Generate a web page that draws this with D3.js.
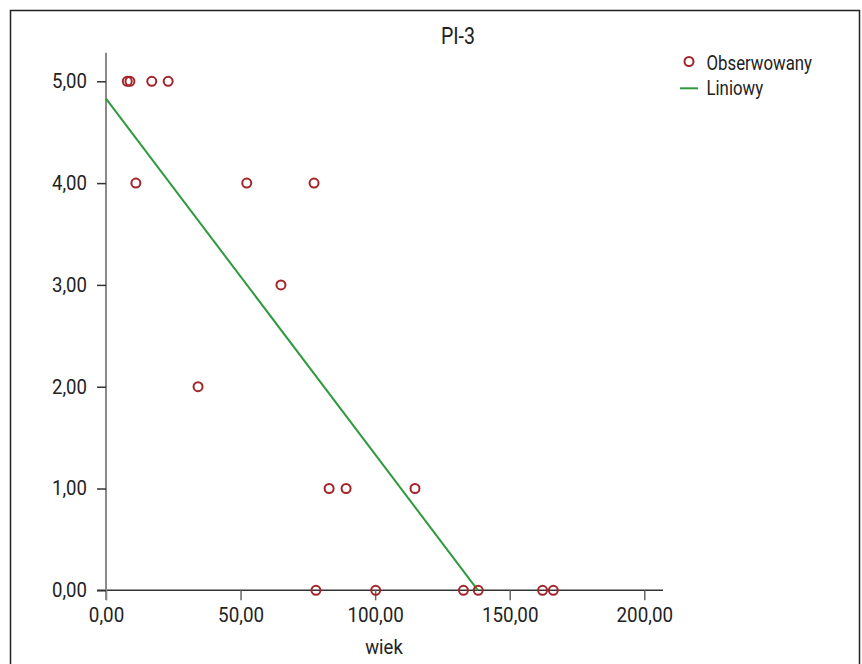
<!DOCTYPE html>
<html>
<head>
<meta charset="utf-8">
<script src="https://cdn.jsdelivr.net/npm/d3@7"></script>
<style>
  body { margin: 0; background: #fff; }
  svg text { font-family: Roboto, "DejaVu Sans Condensed", sans-serif; fill: #222; }
</style>
</head>
<body>
<script>
// observed points (wiek, PI-3)
const wiek = [7.9, 8.9, 17.0, 23.1, 11.1, 52.3, 77.3, 65.0, 34.2, 82.9, 89.2, 114.8, 78.0, 100.2, 132.8, 138.3, 162.2, 166.2];
const pi3 = [5, 5, 5, 5, 4, 4, 4, 3, 2, 1, 1, 1, 0, 0, 0, 0, 0, 0];
// linear fit
const fitIntercept = 4.83;
const fitZeroAt = 138.2;
const xTicks = [0, 50, 100, 150, 200];
const yTicks = [0, 1, 2, 3, 4, 5];
const legendLabels = ["Obserwowany", "Liniowy"];

const width = 862, height = 664;
const fmt = v => d3.format(".2f")(v).replace(".", ",");

// squeeze text horizontally to look like the condensed font of the original
function condense(sel, k) {
    sel.each(function () {
        const t = d3.select(this);
        const x0 = +t.attr("x") || 0;
        t.attr("x", x0 / k).attr("transform", "scale(" + k + ",1)");
    });
}

const x = d3.scaleLinear().domain([0, 200]).range([106, 644.3]);
const y = d3.scaleLinear().domain([0, 5]).range([590.3, 81.3]);

const svg = d3.select("body").append("svg")
    .attr("width", width)
    .attr("height", height);

// frame
svg.append("rect")
    .attr("x", 10.5).attr("y", 10.5)
    .attr("width", 849).attr("height", 700)
    .attr("fill", "none")
    .attr("stroke", "#222")
    .attr("stroke-width", 1.5);

// title
svg.append("text")
    .attr("x", 458).attr("y", 44)
    .attr("text-anchor", "middle")
    .style("font-size", "23px")
    .text("PI-3")
    .call(condense, 0.85);

// x axis
const xAxis = d3.axisBottom(x).tickValues(xTicks).tickFormat(fmt).tickSizeOuter(0).tickSize(10).tickPadding(8);
const gx = svg.append("g")
    .attr("transform", "translate(0," + 590.3 + ")")
    .call(xAxis);
gx.select(".domain").attr("d", "M97,0H663").attr("stroke", "#333").attr("stroke-width", 1.5);
gx.selectAll(".tick line").attr("stroke", "#666").attr("stroke-width", 1.5);
gx.selectAll(".tick text").style("font-size", "20px").attr("fill", "#222").call(condense, 0.94);

// y axis
const yAxis = d3.axisLeft(y).tickValues(yTicks).tickFormat(fmt).tickSizeOuter(0).tickSize(9).tickPadding(10);
const gy = svg.append("g")
    .attr("transform", "translate(106,0)")
    .call(yAxis);
gy.select(".domain").attr("d", "M0,52.7V600").attr("stroke", "#8a8a8a").attr("stroke-width", 2);
gy.selectAll(".tick line").attr("stroke", "#333").attr("stroke-width", 1.5);
gy.selectAll(".tick text").style("font-size", "20px").attr("fill", "#222").call(condense, 0.93);

// x label
svg.append("text")
    .attr("x", 384).attr("y", 654)
    .attr("text-anchor", "middle")
    .style("font-size", "21px")
    .text("wiek")
    .call(condense, 0.88);

// fit line
svg.append("line")
    .attr("x1", x(0)).attr("y1", y(fitIntercept))
    .attr("x2", x(fitZeroAt)).attr("y2", y(0))
    .attr("stroke", "#2e9a3e")
    .attr("stroke-width", 2);

// points
svg.selectAll("circle.pt")
    .data(wiek.map((w, i) => [w, pi3[i]]))
    .enter()
    .append("circle")
    .attr("class", "pt")
    .attr("cx", d => x(d[0]))
    .attr("cy", d => y(d[1]))
    .attr("r", 4.5)
    .attr("fill", "none")
    .attr("stroke", "#a3242a")
    .attr("stroke-width", 2);

// legend
svg.append("circle")
    .attr("cx", 689).attr("cy", 61.5).attr("r", 4.5)
    .attr("fill", "none").attr("stroke", "#a3242a").attr("stroke-width", 2);
svg.append("line")
    .attr("x1", 680).attr("x2", 698).attr("y1", 88.3).attr("y2", 88.3)
    .attr("stroke", "#2e9a3e").attr("stroke-width", 2);
svg.selectAll("text.leg")
    .data(legendLabels)
    .enter()
    .append("text")
    .attr("class", "leg")
    .attr("x", 706.5)
    .attr("y", (d, i) => 70 + i * 25)
    .style("font-size", "21px")
    .text(d => d)
    .call(condense, 0.8);
</script>
</body>
</html>
